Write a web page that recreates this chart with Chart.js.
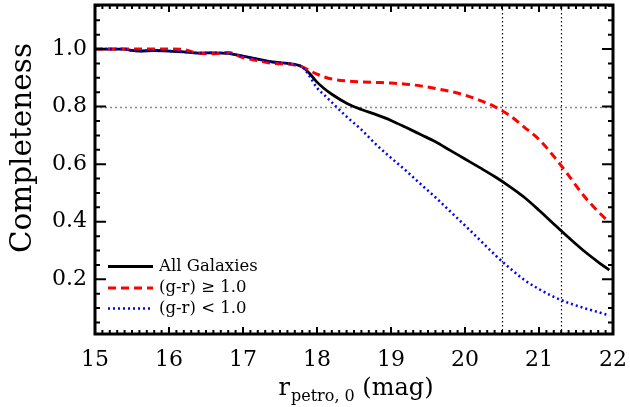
<!DOCTYPE html>
<html><head><meta charset="utf-8">
<script src="https://cdn.jsdelivr.net/npm/chart.js@4.4.1/dist/chart.umd.min.js"></script>
<style>html,body{margin:0;padding:0;background:#fff;} canvas{display:block;}</style>
</head><body>
<canvas id="c" width="630" height="407"></canvas>
<script>
// ---- data ----
const magnitudes = [15.0,15.2,15.4,15.5,15.6,15.8,16.0,16.2,16.4,16.6,16.8,17.0,17.2,17.4,17.6,17.8,17.9,18.0,18.1,18.2,18.4,18.6,18.8,19.0,19.2,19.4,19.6,19.8,20.0,20.2,20.4,20.6,20.8,21.0,21.2,21.4,21.6,21.8,21.95];
const completenessAll = [1.0,1.0,1.0,0.995,0.993,0.995,0.993,0.99,0.986,0.987,0.985,0.975,0.965,0.955,0.95,0.938,0.915,0.885,0.862,0.843,0.812,0.79,0.772,0.752,0.728,0.703,0.678,0.648,0.618,0.588,0.557,0.523,0.485,0.44,0.392,0.345,0.30,0.26,0.232];
const completenessRed = [1.0,1.0,1.0,1.0,1.0,1.0,1.0,0.998,0.985,0.984,0.988,0.97,0.96,0.95,0.948,0.938,0.925,0.913,0.903,0.896,0.889,0.886,0.884,0.882,0.878,0.872,0.863,0.853,0.84,0.822,0.80,0.77,0.729,0.686,0.627,0.561,0.492,0.435,0.398];
const completenessBlue = [1.0,1.0,1.0,0.995,0.993,0.995,0.993,0.99,0.986,0.987,0.985,0.975,0.965,0.955,0.95,0.938,0.905,0.865,0.84,0.815,0.765,0.72,0.668,0.622,0.578,0.531,0.485,0.436,0.387,0.337,0.286,0.24,0.198,0.166,0.139,0.118,0.101,0.086,0.074];
const seriesLabels = ['All Galaxies', '(g-r) \u2265 1.0', '(g-r) < 1.0'];
const xTickValues = [15,16,17,18,19,20,21,22];
const yTickValues = [0.2,0.4,0.6,0.8,1.0];
const refMagnitudes = [20.5, 21.3];
const refCompleteness = [0.8];

const FONT = '"DejaVu Serif", "Liberation Serif", serif';
const toPts = ys => magnitudes.map((m, i) => ({x: m, y: ys[i]}));

const refLinesPlugin = {
  id: 'refLines',
  beforeDatasetsDraw(chart) {
    const {ctx, chartArea: a, scales: {x, y}} = chart;
    ctx.save();
    ctx.beginPath(); ctx.rect(a.left, a.top, a.right - a.left, a.bottom - a.top); ctx.clip();
    ctx.strokeStyle = '#8a8a8a'; ctx.lineWidth = 1.5; ctx.setLineDash([2, 3]);
    refCompleteness.forEach(v => {
      const py = Math.round(y.getPixelForValue(v)) + 0.5;
      ctx.beginPath(); ctx.moveTo(a.left, py); ctx.lineTo(a.right, py); ctx.stroke();
    });
    ctx.strokeStyle = '#000'; ctx.lineWidth = 1.2; ctx.setLineDash([1.5, 2.5]);
    refMagnitudes.forEach(v => {
      const px = Math.round(x.getPixelForValue(v)) + 0.5;
      ctx.beginPath(); ctx.moveTo(px, a.top); ctx.lineTo(px, a.bottom); ctx.stroke();
    });
    ctx.restore();
  },
  afterDraw(chart) {
    const {ctx, chartArea: a, scales: {x, y}} = chart;
    ctx.save();
    // ticks on all four sides, pointing inward
    ctx.strokeStyle = '#000'; ctx.lineWidth = 2; ctx.setLineDash([]);
    for (let k = 150; k <= 220; k++) {
      const v = k / 10;
      const major = k % 10 === 0;
      const px = x.getPixelForValue(v);
      const len = major ? 7 : 4;
      ctx.beginPath();
      ctx.moveTo(px, a.bottom); ctx.lineTo(px, a.bottom - len);
      ctx.moveTo(px, a.top); ctx.lineTo(px, a.top + len);
      ctx.stroke();
    }
    for (let k = 1; k <= 23; k++) {
      const v = k * 0.05;
      const major = k % 4 === 0;
      const py = y.getPixelForValue(v);
      const len = major ? 11 : 5;
      ctx.beginPath();
      ctx.moveTo(a.left, py); ctx.lineTo(a.left + len, py);
      ctx.moveTo(a.right, py); ctx.lineTo(a.right - len, py);
      ctx.stroke();
    }
    // frame
    ctx.lineWidth = 3;
    ctx.strokeRect(a.left, a.top, a.right - a.left, a.bottom - a.top);

    // legend inside the plot
    const rows = [266.5, 288, 308.5];
    chart.data.datasets.forEach((ds, i) => {
      const yy = rows[i];
      ctx.strokeStyle = ds.borderColor; ctx.lineWidth = ds.borderWidth;
      ctx.setLineDash(ds.borderDash || []);
      ctx.beginPath(); ctx.moveTo(108, yy); ctx.lineTo(153, yy); ctx.stroke();
      ctx.setLineDash([]);
      ctx.fillStyle = '#000'; ctx.font = '16.5px ' + FONT;
      ctx.textAlign = 'left'; ctx.textBaseline = 'middle';
      ctx.fillText(ds.label, 159, yy);
    });

    // x title with subscript
    ctx.fillStyle = '#000'; ctx.textBaseline = 'alphabetic'; ctx.textAlign = 'left';
    const big = '24px ' + FONT, small = '16px ' + FONT;
    ctx.font = big; const wr = ctx.measureText('r').width; const wm = ctx.measureText(' (mag)').width;
    ctx.font = small; const ws = ctx.measureText('petro, 0').width;
    const total = wr + 1 + ws + wm;
    let x0 = (a.left + a.right) / 2 - total / 2 + 2;
    ctx.font = big; ctx.fillText('r', x0, 395);
    ctx.font = small; ctx.fillText('petro, 0', x0 + wr + 1, 401);
    ctx.font = big; ctx.fillText(' (mag)', x0 + wr + 1 + ws, 395);

    // y title
    ctx.translate(31, 148); ctx.rotate(-Math.PI / 2);
    ctx.font = '29.5px ' + FONT; ctx.textAlign = 'center';
    ctx.fillText('Completeness', 0, 0);
    ctx.restore();
  }
};

new Chart(document.getElementById('c'), {
  type: 'line',
  data: {
    datasets: [
      {label: seriesLabels[0], data: toPts(completenessAll), borderColor: '#000000', borderWidth: 2.8, order: 3},
      {label: seriesLabels[1], data: toPts(completenessRed), borderColor: '#ff0000', borderWidth: 3, borderDash: [8, 5], order: 2},
      {label: seriesLabels[2], data: toPts(completenessBlue), borderColor: '#0000ff', borderWidth: 2.5, borderDash: [2, 3], order: 1}
    ]
  },
  options: {
    responsive: false, animation: false, devicePixelRatio: 1,
    layout: {padding: {top: 5, right: 17, left: 0, bottom: 0}},
    elements: {point: {radius: 0}, line: {cubicInterpolationMode: 'monotone', fill: false}},
    plugins: {legend: {display: false}, tooltip: {enabled: false}},
    scales: {
      x: {
        type: 'linear', min: 15, max: 22,
        afterBuildTicks: s => { s.ticks = xTickValues.map(v => ({value: v})); },
        afterFit: s => { s.height = 73; s.paddingLeft = 0; s.paddingRight = 0; },
        grid: {display: false, drawTicks: false}, border: {display: false},
        ticks: {padding: 13, color: '#000', autoSkip: false, maxRotation: 0, font: {family: FONT, size: 22}}
      },
      y: {
        type: 'linear', min: 0.01, max: 1.153,
        afterBuildTicks: s => { s.ticks = yTickValues.map(v => ({value: v})); },
        afterFit: s => { s.width = 95; s.paddingTop = 0; s.paddingBottom = 0; },
        grid: {display: false, drawTicks: false}, border: {display: false},
        ticks: {padding: 8, color: '#000', font: {family: FONT, size: 22}, callback: v => Number(v).toFixed(1)}
      }
    }
  },
  plugins: [refLinesPlugin]
});
</script>
</body></html>
